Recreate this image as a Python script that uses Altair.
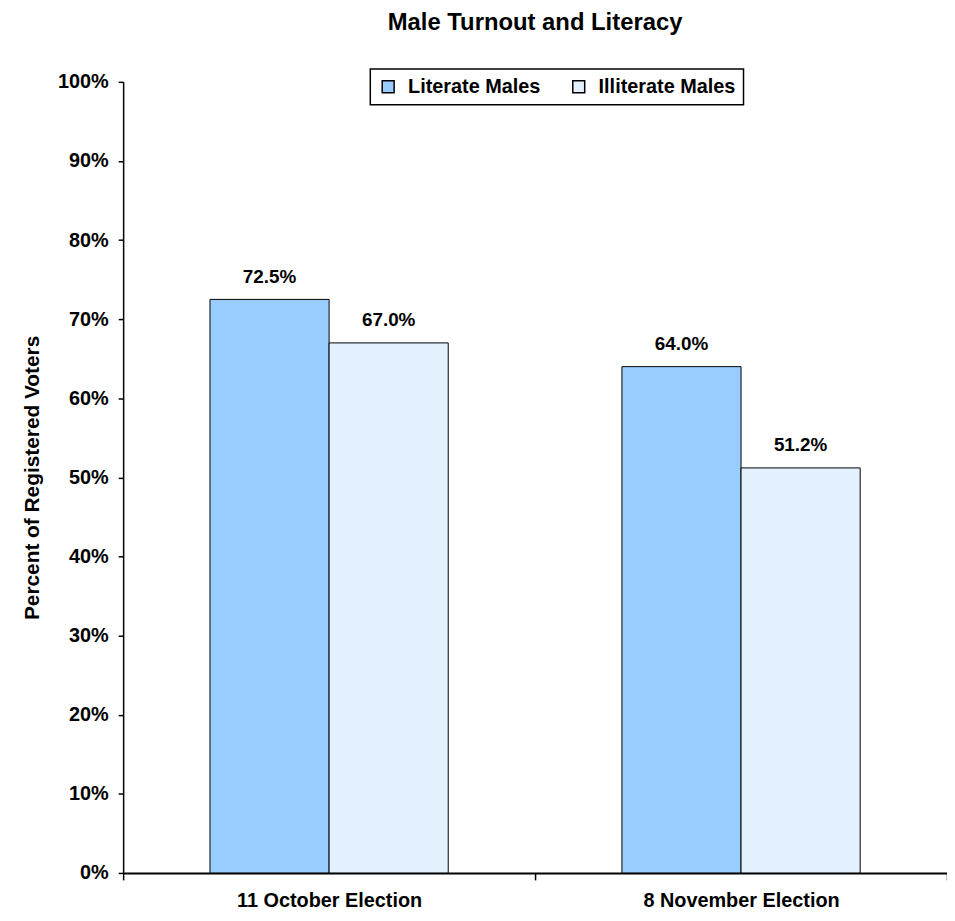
import altair as alt
import pandas as pd

elections = ["11 October Election", "8 November Election"]
groups = ["Literate Males", "Illiterate Males"]
literate = [0.725, 0.640]
illiterate = [0.670, 0.512]
colors = ["#99CCFF", "#E3F1FF"]

rows = []
for i, e in enumerate(elections):
    rows.append({"election": e, "group": groups[0], "value": literate[i]})
    rows.append({"election": e, "group": groups[1], "value": illiterate[i]})
df = pd.DataFrame(rows)

FONT = "Liberation Sans"

x = alt.X("election:N", sort=elections,
          scale=alt.Scale(paddingInner=0, paddingOuter=0),
          axis=alt.Axis(title=None, labelAngle=0, tickBand="extent", tickSize=7,
                        labelPadding=11, labelFontSize=20, labelFontWeight="bold",
                        labelFont=FONT, labelColor="black", labelLimit=0,
                        domainColor="black", domainWidth=2, tickColor="black",
                        tickWidth=1.5))
xo = alt.XOffset("group:N", sort=groups,
                 scale=alt.Scale(paddingInner=0, paddingOuter=0.729))
y = alt.Y("value:Q",
          scale=alt.Scale(domain=[0, 1], nice=False),
          axis=alt.Axis(title="Percent of Registered Voters", format=".0%",
                        values=[i / 10 for i in range(11)], grid=False,
                        tickSize=5, labelPadding=10, labelFontSize=20,
                        labelFontWeight="bold", labelFont=FONT, labelColor="black",
                        titleFont=FONT, titleFontSize=21, titleFontWeight="bold",
                        titleColor="black", titlePadding=15,
                        domainColor="black", domainWidth=1.5, tickColor="black",
                        tickWidth=1.5))

bars = alt.Chart(df).mark_bar(stroke="black", strokeWidth=1).encode(
    x=x, xOffset=xo, y=y,
    color=alt.Color("group:N", sort=groups,
                    scale=alt.Scale(domain=groups, range=colors),
                    legend=alt.Legend(title=None, orient="none", direction="horizontal",
                                      legendX=249, legendY=-13, padding=8,
                                      strokeColor="black",
                                      fillColor="white",
                                      symbolType="square", symbolSize=144,
                                      symbolStrokeColor="black", symbolStrokeWidth=1.5,
                                      labelFontSize=20, labelFontWeight="bold",
                                      labelFont=FONT, labelColor="black",
                                      columnPadding=28, labelOffset=10)),
)

labels = alt.Chart(df).mark_text(baseline="alphabetic", dy=-17, fontSize=19,
                                 fontWeight="bold", font=FONT, color="black").encode(
    x=alt.X("election:N", sort=elections), xOffset=alt.XOffset("group:N", sort=groups),
    y="value:Q", text=alt.Text("value:Q", format=".1%"),
)

chart = alt.layer(bars, labels).properties(
    width=830, height=797,
    title=alt.TitleParams("Male Turnout and Literacy", font=FONT, fontSize=24,
                          fontWeight="bold", color="black", anchor="middle",
                          offset=33),
    autosize=alt.AutoSizeParams(type="none"),
    padding={"left": 116, "top": 71, "right": 0, "bottom": 45},
    background="white",
).configure_view(stroke=None).configure_legend(strokeWidth=1.5)

chart.save("out.html", embed_options={"renderer": "svg", "actions": False})
